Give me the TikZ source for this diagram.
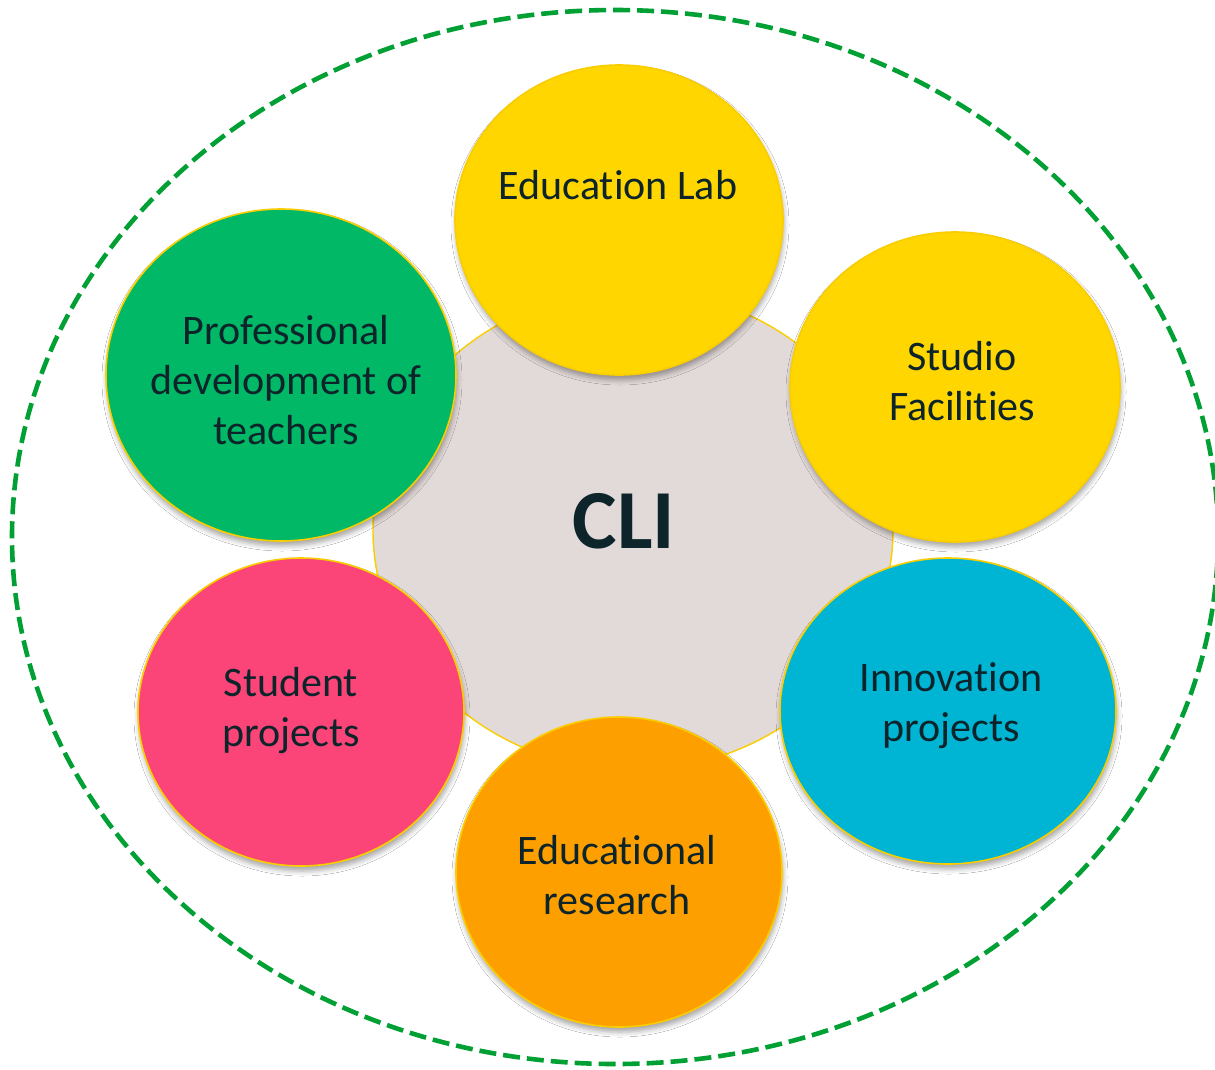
\documentclass[tikz,border=0pt]{standalone}
\usepackage{fontspec}
\setmainfont[Ligatures={NoCommon,NoContextual}]{Carlito}
\usetikzlibrary{shadows.blur}
\definecolor{cyel}{RGB}{255,214,0}
\definecolor{cgrn}{RGB}{0,184,101}
\definecolor{cpnk}{RGB}{251,69,120}
\definecolor{corg}{RGB}{254,159,0}
\definecolor{cblu}{RGB}{0,180,212}
\definecolor{ccen}{RGB}{226,218,217}
\definecolor{cbrd}{RGB}{250,205,0}
\definecolor{ctxt}{RGB}{12,36,42}
\definecolor{cdash}{RGB}{0,160,52}
\newcommand{\nolig}{\kern0pt}
\tikzset{
  bubble/.style={draw=cbrd, line width=1.6pt,
    blur shadow={shadow xshift=1pt, shadow yshift=-5pt, shadow blur radius=5pt, shadow opacity=35}},
  ltxt/.style={text=ctxt, align=center, font=\fontsize{42}{50}\selectfont},
}
\begin{document}
\begin{tikzpicture}[x=1pt,y=-1pt]
\useasboundingbox (0,0) rectangle (1215,1069);
\fill[white] (0,0) rectangle (1215,1069);
% outer dashed ellipse
\draw[cdash, line width=4.6pt, dash pattern=on 17pt off 7pt] (615,537) ellipse [x radius=603, y radius=527];
% central ellipse
\draw[fill=ccen, draw=cbrd, line width=1.4pt] (633,530) ellipse [x radius=260, y radius=240];
% bubbles
\fill[cyel, bubble] (619,220) ellipse [x radius=164, y radius=155];
\fill[cyel, bubble] (955,387) ellipse [x radius=165, y radius=155];
\fill[cblu, bubble] (948,711) ellipse [x radius=168, y radius=153];
\fill[corg, bubble] (619,872) ellipse [x radius=163, y radius=155];
\fill[cpnk, bubble] (301,712) ellipse [x radius=163, y radius=154];
\fill[cgrn, bubble] (281,375) ellipse [x radius=175, y radius=166];
% labels
\node[text=ctxt, font=\bfseries\fontsize{84}{90}\selectfont] (cli) at (624,521) {CLI};
\node[ltxt] (edl) at (618,185) {Educat\nolig ion Lab};
\node[ltxt] (stu) at (962,381) {Studio\\Facilit\nolig ies};
\node[ltxt] (inn) at (951,706) {Innovat\nolig ion\\projects};
\node[ltxt] (edr) at (617,875) {Educat\nolig ional\\research};
\node[ltxt] (spr) at (291,711) {Student\\projects};
\node[ltxt] (pro) at (286,380) {Professional\\development of\\teachers};
\end{tikzpicture}
\end{document}
